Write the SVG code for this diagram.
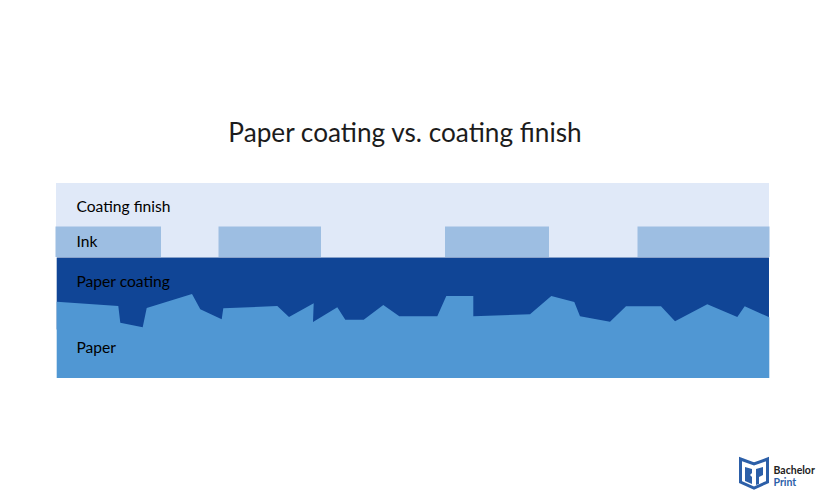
<svg xmlns="http://www.w3.org/2000/svg" width="825" height="500" viewBox="0 0 825 500">
<style>
text{font-family:Lato,"Open Sans","Liberation Sans",sans-serif;fill:#000;}
.l{font-size:15.600px;}
.ink{fill:#9dbee2;}
</style>
<rect width="825" height="500" fill="#fff"/>
<text x="405" y="142" font-size="26.200" text-anchor="middle" style="fill:#1c1c1c">Paper coating vs. coating finish</text>
<g id="coating-finish"><rect x="56" y="183" width="713" height="74" fill="#e0e9f8"/><text class="l" x="76.500" y="212">Coating finish</text></g>
<g id="ink"><rect class="ink" x="55.500" y="226.500" width="105.500" height="30.500"/><rect class="ink" x="218.500" y="226.500" width="102.500" height="30.500"/><rect class="ink" x="445" y="226.500" width="104" height="30.500"/><rect class="ink" x="637.500" y="226.500" width="132" height="30.500"/><text class="l" x="76.500" y="247">Ink</text></g>
<g id="paper-coating"><rect x="56.700" y="257.500" width="712.300" height="72" fill="#104596"/><text class="l" x="76.500" y="287">Paper coating</text></g>
<g id="paper"><polygon fill="#5097d3" points="56.700,301.700 118.300,306 120.300,322.700 142.700,327.300 146.700,308 192,294 200.300,309.300 221.700,319.300 223.300,308.300 277.300,306 289,317 313.700,303.300 313,322 337.300,307.300 345.300,319.700 363.700,319.700 383.300,305 399.300,316.300 437.300,316.300 446.300,296 473.300,296 473.300,316.300 530,314.300 551.300,296 574.300,302 580,316.300 610,321.700 626,306.300 661,306.300 675,321.300 707.300,304.300 737.300,317 744.700,306.300 769.300,317.300 769.300,378 56.700,378"/><text class="l" x="76.500" y="353">Paper</text></g>
<g id="logo">
<path d="M740.500 459L754 464L767.500 459V482L754 488L740.500 482Z" fill="none" stroke="#2c5fa8" stroke-width="3"/>
<path d="M745 467L752 469V473L750 475L752 477V484L745 481ZM756 469L763 467V475L759 477V484L756 485Z" fill="#2c5fa8"/>
<text x="773.500" y="474" font-size="10.500" font-weight="700" style="fill:#222">Bachelor</text>
<text x="773.500" y="485.500" font-size="10.500" font-weight="700" style="fill:#2c5fa8">Print</text>
</g>
</svg>
